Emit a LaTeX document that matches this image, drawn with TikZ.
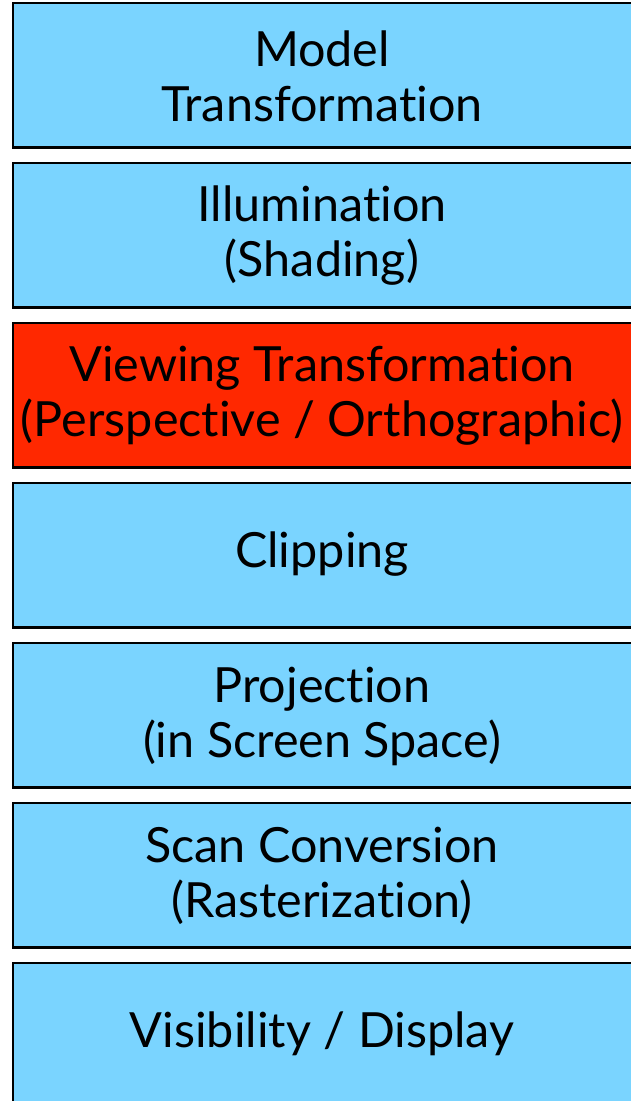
\documentclass[tikz,border=0pt]{standalone}
\usepackage{fontspec}
\setmainfont{Lato}[RawFeature={-liga;-dlig}]
\definecolor{boxblue}{HTML}{7AD4FF}
\definecolor{boxred}{HTML}{FF2800}
\begin{document}
\begin{tikzpicture}[x=1pt,y=-1pt,
  stage/.style={draw=black,line width=2.6pt,fill=boxblue,minimum width=621pt,minimum height=144.5pt,anchor=north west,inner sep=0pt},
  hot/.style={stage,fill=boxred},
  lbl/.style={align=center,font=\fontsize{48.5}{55}\selectfont,inner sep=0pt}]
\useasboundingbox (0,0) rectangle (630,1101);
\node[stage] (b1) at (11.5,1.5) {};
\node[stage] (b2) at (11.5,161.5) {};
\node[hot]   (b3) at (11.5,321.5) {};
\node[stage] (b4) at (11.5,481.5) {};
\node[stage] (b5) at (11.5,641.5) {};
\node[stage] (b6) at (11.5,801.5) {};
\node[stage] (b7) at (11.5,961.5) {};
\node[lbl] (t1) at (322,76) {Model\\Transformation};
\node[lbl] (t2) at (322,236) {Illumination\\(Shading)};
\node[lbl] (t3) at (322,396) {Viewing Transformation\\(Perspective / Orthographic)};
\node[lbl] (t4) at (322,554) {Clipping};
\node[lbl] (t5) at (322,716) {Projection\\(in Screen Space)};
\node[lbl] (t6) at (322,876) {Scan Conversion\\(Rasterization)};
\node[lbl] (t7) at (322,1034) {Visibility / Display};
\end{tikzpicture}
\end{document}
